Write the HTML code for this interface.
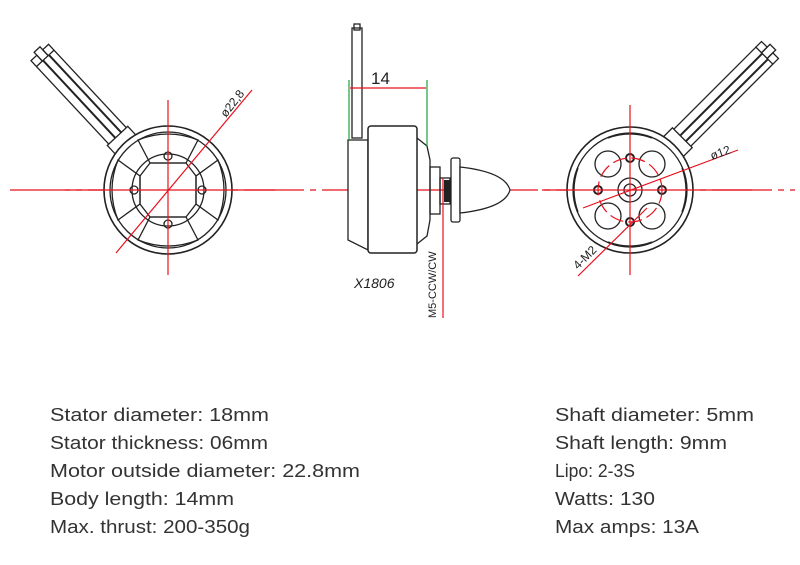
<!DOCTYPE html>
<html><head><meta charset="utf-8"><style>
html,body{margin:0;padding:0;background:#fff;}
svg{display:block;}
text{font-family:"Liberation Sans",sans-serif;}
</style></head><body>
<svg width="800" height="565" viewBox="0 0 800 565" xmlns="http://www.w3.org/2000/svg">
<rect width="800" height="565" fill="#fff"/>
<line x1="10" y1="190" x2="795" y2="190" stroke="#e8101c" stroke-width="1.2" stroke-dasharray="60,6,6,6"/>

<!-- LEFT MOTOR -->
<g stroke="#222" fill="none" stroke-width="1.3">
  <g transform="translate(168,190) rotate(-133)">
    <rect x="58" y="-14" width="16" height="28" fill="#fff"/>
    <line x1="74" y1="-12" x2="180" y2="-12"/><line x1="74" y1="-3" x2="180" y2="-3" stroke-width="2"/>
    <line x1="74" y1="5" x2="180" y2="5" stroke-width="2"/><line x1="74" y1="12" x2="180" y2="12"/>
    <rect x="180" y="-12" width="8" height="8"/><rect x="180" y="-4" width="12" height="8"/><rect x="180" y="4" width="8" height="8"/>
  </g>
  <circle cx="168" cy="190" r="64" fill="#fff" stroke-width="1.6"/>
  <circle cx="168" cy="190" r="58"/>
  <circle cx="168" cy="190" r="36"/>
  <polygon points="150,163 186,163 196,176 196,204 186,217 150,217 140,204 140,176" />
  <g>
    <path d="M138,140 Q168,128 198,140 L186,163 L150,163 Z"/>
    <path d="M138,240 Q168,252 198,240 L186,217 L150,217 Z"/>
    <path d="M118,160 Q106,190 118,220 L140,204 L140,176 Z"/>
    <path d="M218,160 Q230,190 218,220 L196,204 L196,176 Z"/>
    <circle cx="168" cy="156" r="4"/><circle cx="168" cy="224" r="4"/>
    <circle cx="134" cy="190" r="4"/><circle cx="202" cy="190" r="4"/>
  </g>
</g>
<g stroke="#e8101c" stroke-width="1.2">
  <line x1="168" y1="100" x2="168" y2="275"/>
  <line x1="65" y1="190" x2="275" y2="190"/>
  <line x1="116" y1="253" x2="252" y2="90"/>
</g>
<text x="0" y="0" font-size="12" fill="#222" transform="translate(226,118) rotate(-52)">ø22,8</text>

<!-- MIDDLE -->
<g stroke="#222" fill="none" stroke-width="1.3">
  <rect x="352" y="28" width="10" height="110" fill="#fff"/>
  <rect x="354" y="24" width="6" height="6"/>
  <path d="M348,140 L368,140 L368,250 L348,240 Z" fill="#fff"/>
  <rect x="368" y="126" width="49" height="127" rx="3" fill="#fff" stroke-width="1.5"/>
  <path d="M417,138 L427,146 L430,160 L430,220 L427,236 L417,244"/>
  <rect x="430" y="167" width="10" height="47"/>
  <rect x="440" y="178" width="10" height="26"/>
  <rect x="451" y="158" width="9" height="64" rx="2" fill="#fff"/>
  <path d="M460,167 Q505,172 510,190 Q505,208 460,213 Z" fill="#fff"/>
</g>
<rect x="444" y="180" width="6" height="22" fill="#222"/>
<g stroke="#1aa33a" stroke-width="1.2">
  <line x1="349" y1="80" x2="349" y2="140"/>
  <line x1="427" y1="80" x2="427" y2="146"/>
</g>
<line x1="350" y1="88" x2="426" y2="88" stroke="#e8101c" stroke-width="1.2"/>
<text x="371" y="84" font-size="17" fill="#222">14</text>
<line x1="443" y1="178" x2="443" y2="318" stroke="#e8101c" stroke-width="1.2"/>
<text font-size="11" fill="#222" transform="translate(436,318) rotate(-90)">M5-CCW/CW</text>
<text x="354" y="288" font-size="14" font-style="italic" fill="#222">X1806</text>

<!-- RIGHT MOTOR -->
<g stroke="#222" fill="none" stroke-width="1.3">
  <g transform="translate(630,190) rotate(-45)">
    <rect x="58" y="-14" width="16" height="28" fill="#fff"/>
    <line x1="74" y1="-12" x2="190" y2="-12"/><line x1="74" y1="-3" x2="190" y2="-3" stroke-width="2"/>
    <line x1="74" y1="5" x2="190" y2="5" stroke-width="2"/><line x1="74" y1="12" x2="190" y2="12"/>
    <rect x="190" y="-12" width="8" height="8"/><rect x="190" y="-4" width="12" height="8"/><rect x="190" y="4" width="8" height="8"/>
  </g>
  <circle cx="630" cy="190" r="63" fill="#fff" stroke-width="1.6"/>
  <circle cx="630" cy="190" r="57"/>
  <path d="M608,138 Q630,130 652,138"/><path d="M608,242 Q630,250 652,242"/>
  <path d="M578,168 Q570,190 578,212"/><path d="M682,168 Q690,190 682,212"/>
  <circle cx="608" cy="164" r="13"/><circle cx="652" cy="164" r="13"/>
  <circle cx="608" cy="216" r="13"/><circle cx="652" cy="216" r="13"/>
  <circle cx="630" cy="190" r="12"/><circle cx="630" cy="190" r="6"/>
  <circle cx="630" cy="158" r="4" stroke-width="2"/><circle cx="630" cy="222" r="4" stroke-width="2"/>
  <circle cx="598" cy="190" r="4" stroke-width="2"/><circle cx="662" cy="190" r="4" stroke-width="2"/>
</g>
<g stroke="#e8101c" stroke-width="1.2" fill="none">
  <line x1="630" y1="105" x2="630" y2="275"/>
  <line x1="542" y1="190" x2="752" y2="190"/>
  <circle cx="630" cy="190" r="32" stroke-dasharray="14,5"/>
  <line x1="583" y1="208" x2="738" y2="150"/>
  <line x1="578" y1="276" x2="647" y2="208"/>
</g>
<text font-size="12" fill="#222" transform="translate(712,160) rotate(-20)">ø12</text>
<text font-size="12" fill="#222" transform="translate(578,270) rotate(-45)">4-M2</text>

<!-- SPECS -->
<g font-size="18.5" fill="#333">
  <text x="50" y="421" textLength="219" lengthAdjust="spacingAndGlyphs">Stator diameter: 18mm</text>
  <text x="50" y="449" textLength="218" lengthAdjust="spacingAndGlyphs">Stator thickness: 06mm</text>
  <text x="50" y="477" textLength="310" lengthAdjust="spacingAndGlyphs">Motor outside diameter: 22.8mm</text>
  <text x="50" y="505" textLength="184" lengthAdjust="spacingAndGlyphs">Body length: 14mm</text>
  <text x="50" y="533" textLength="200" lengthAdjust="spacingAndGlyphs">Max. thrust: 200-350g</text>
  <text x="555" y="421" textLength="199" lengthAdjust="spacingAndGlyphs">Shaft diameter: 5mm</text>
  <text x="555" y="449" textLength="172" lengthAdjust="spacingAndGlyphs">Shaft length: 9mm</text>
  <text x="555" y="477" textLength="80" lengthAdjust="spacingAndGlyphs">Lipo: 2-3S</text>
  <text x="555" y="505" textLength="100" lengthAdjust="spacingAndGlyphs">Watts: 130</text>
  <text x="555" y="533" textLength="144" lengthAdjust="spacingAndGlyphs">Max amps: 13A</text>
</g>
</svg>
</body></html>
